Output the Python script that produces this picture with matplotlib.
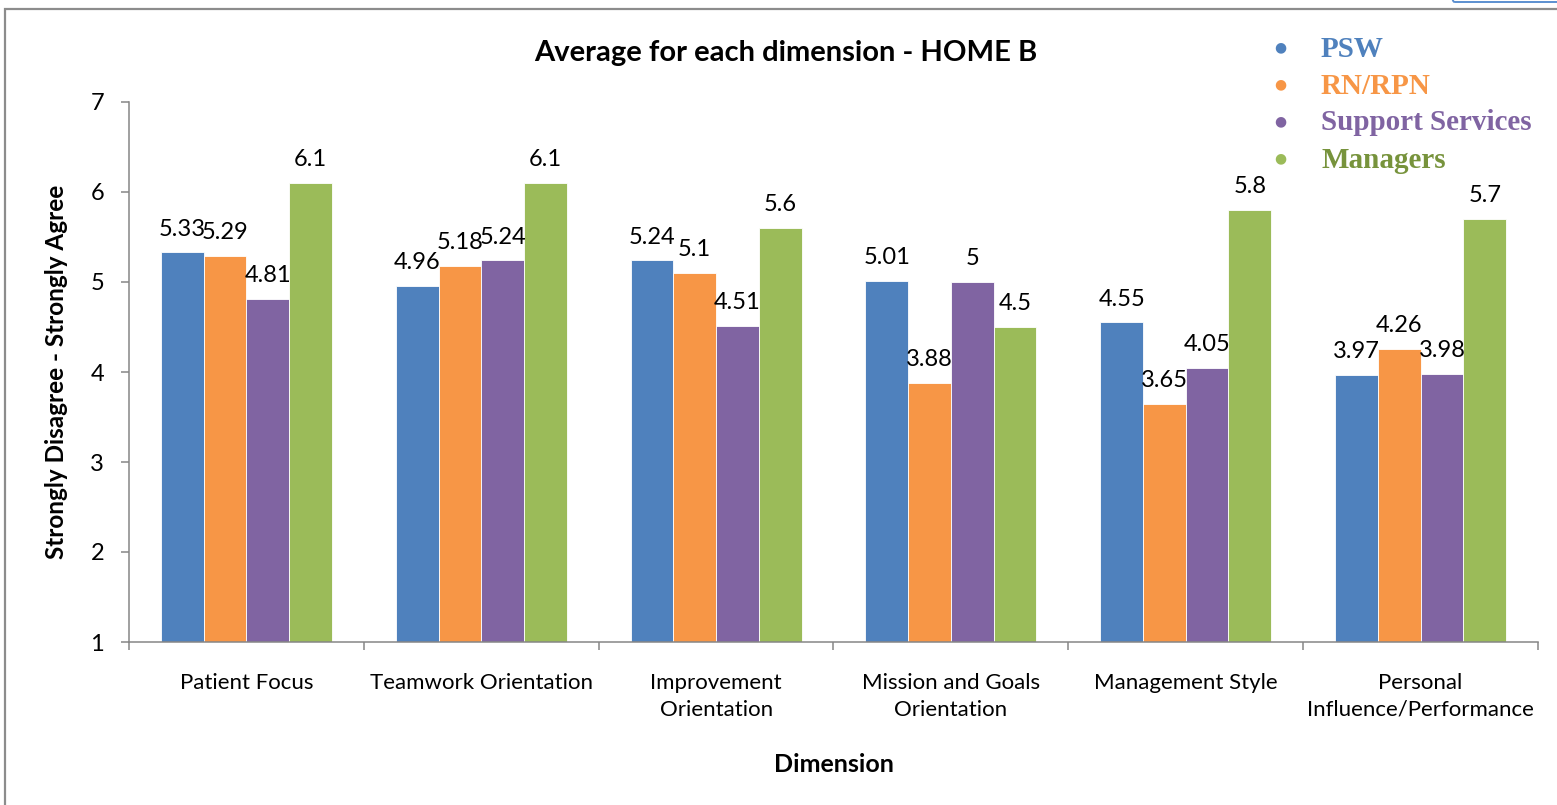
import numpy as np
import matplotlib.pyplot as plt
from matplotlib.patches import Rectangle, FancyBboxPatch

plt.rcParams['font.family'] = ['Lato', 'DejaVu Sans']

dimensions = ['Patient Focus', 'Teamwork Orientation', 'Improvement\nOrientation',
              'Mission and Goals\nOrientation', 'Management Style',
              'Personal\nInfluence/Performance']
groups = ['PSW', 'RN/RPN', 'Support Services', 'Managers']
psw = [5.33, 4.96, 5.24, 5.01, 4.55, 3.97]
rn_rpn = [5.29, 5.18, 5.1, 3.88, 3.65, 4.26]
support = [4.81, 5.24, 4.51, 5.0, 4.05, 3.98]
managers = [6.1, 6.1, 5.6, 4.5, 5.8, 5.7]
yticks = [1, 2, 3, 4, 5, 6, 7]

series = [psw, rn_rpn, support, managers]
colors = ['#4F81BD', '#F79646', '#8064A2', '#9BBB59']
text_colors = ['#4F81BD', '#F79646', '#8064A2', '#77933C']

fig = plt.figure(figsize=(15.57, 8.05), dpi=100)
ax = fig.add_axes([129/1557, 163/805, 1409/1557, 540/805])

x = np.arange(len(dimensions))
w = 0.182
for i, (vals, c) in enumerate(zip(series, colors)):
    pos = x + (i - 1.5) * w
    base = np.array(vals) - 1
    ax.bar(pos, base, w, bottom=1, color=c, edgecolor='white', linewidth=0.6)
    for p, v in zip(pos, vals):
        ax.annotate(f'{v:g}', (p, v), xytext=(0, 12), textcoords='offset points',
                    ha='center', va='baseline', fontsize=17)

ax.set_xlim(-0.5, len(dimensions) - 0.5)
ax.set_ylim(1, 7)
ax.set_yticks(yticks)
ax.tick_params(axis='y', labelsize=17, length=6, width=1.1, color='#868686', pad=12)

# tick marks at category boundaries, labels at centres
ax.set_xticks(np.arange(len(dimensions) + 1) - 0.5)
ax.set_xticklabels([])
ax.tick_params(axis='x', which='major', length=6, width=1.1, color='#868686')
ax.set_xticks(x, minor=True)
ax.set_xticklabels(dimensions, minor=True, fontsize=16, linespacing=1.45)
ax.tick_params(axis='x', which='minor', length=0, pad=22)

for s in ['top', 'right']:
    ax.spines[s].set_visible(False)
for s in ['left', 'bottom']:
    ax.spines[s].set_color('#868686')
    ax.spines[s].set_linewidth(1.1)

ax.set_ylabel('Strongly Disagree - Strongly Agree', fontsize=17.5, fontweight='bold', labelpad=16)
ax.set_xlabel('Dimension', fontsize=18, fontweight='bold', labelpad=24)
fig.text(786/1557, 1 - 53/805, 'Average for each dimension - HOME B', ha='center', va='center',
         fontsize=21, fontweight='bold')

# legend: coloured bullets with serif labels
for i, (g, c, tc) in enumerate(zip(groups, colors, text_colors)):
    yy = 1 - (47 + 37 * i) / 805
    fig.text(1280/1557, yy, '\u25CF', color=c, fontsize=10, ha='center', va='center',
             family='DejaVu Sans')
    fig.text(1321/1557, yy - 2/805, g, color=tc, fontsize=21, fontweight='bold', ha='left',
             va='center', family='Liberation Serif')

# chart frame
fig.patches.append(Rectangle((5/1557, -0.2), 2, 1.2 - 9/805, transform=fig.transFigure,
                             fill=False, edgecolor='#8C8C8C', linewidth=1.6))
fig.patches.append(FancyBboxPatch((1442/1557, 1 - 2/805), 0.2, 0.5,
                                  boxstyle='round,pad=0,rounding_size=0.008',
                                  transform=fig.transFigure, fill=False,
                                  edgecolor='#5B8FD0', linewidth=1.4))

fig.savefig('out.png', dpi=100)
